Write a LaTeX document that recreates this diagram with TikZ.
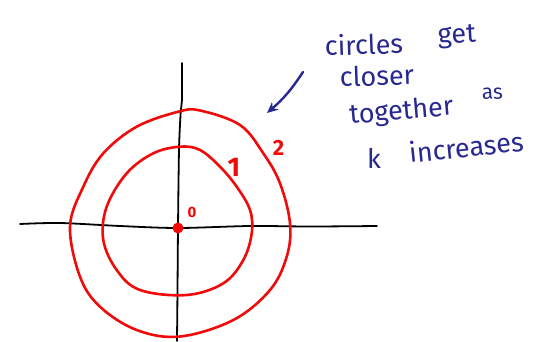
\documentclass[tikz,border=0pt]{standalone}
\usepackage{fontspec}
\setmainfont{Fira Sans}
\usetikzlibrary{arrows.meta}
\definecolor{ink}{RGB}{40,40,145}
\definecolor{pen}{RGB}{240,10,10}
\tikzset{
  axis/.style={black, line width=1.8pt, line cap=round, line join=round},
  level/.style={pen, line width=2.6pt, line join=round},
  note/.style={ink, inner sep=0pt, anchor=base west, font=\fontsize{27}{29}\selectfont},
  smallnote/.style={note, font=\fontsize{21}{23}\selectfont},
  levellabel/.style={pen, inner sep=0pt, font=\bfseries\fontsize{#1}{#1}\selectfont},
  pointer/.style={ink, line width=2.4pt, line cap=round, -{Stealth[length=11pt,width=10pt]}}
}
\begin{document}
\begin{tikzpicture}[x=1pt,y=-1pt]
\useasboundingbox (0,0) rectangle (541,341);
% axes
\coordinate (hL) at (20,224);
\coordinate (hR) at (377,226);
\coordinate (vT) at (182,63);
\coordinate (vB) at (177,341);
\draw[axis] plot[smooth] coordinates {(hL) (60,223) (120,226) (178,228) (250,226) (310,226.5) (hR)};
\draw[axis] plot[smooth] coordinates {(vT) (182,100) (180.7,112) (179,150) (178,228) (177.5,290) (vB)};
% level curves
\draw[level] plot[smooth cycle, tension=0.6] coordinates {
  (178.3,111.7) (200,110.5) (240,125) (263.3,153.3) (280,183.3) (290,223.3)
  (286.7,256.7) (270,290) (233.3,320) (180,336.5) (136.7,330) (100,306.7)
  (80,276.7) (70,226.7) (83.3,186.7) (103.3,153.3) (136.7,126.7)};
\draw[level] plot[smooth cycle, tension=0.6] coordinates {
  (180,146.7) (200,150) (220,166.7) (236.7,186.7) (250,210) (251.7,233.3)
  (243.3,260) (223.3,283.3) (186.7,295) (140,290) (116.7,270) (103.3,240)
  (106.7,206.7) (126.7,173.3) (153.3,153.3)};
% origin
\node[circle, fill=pen, inner sep=0pt, minimum size=11pt] (o) at (178,228) {};
\node[levellabel=15] (l0) at (192,212.5) {0};
\node[levellabel=27] (l1) at (234,167.5) {1};
\node[levellabel=22] (l2) at (278.5,147.5) {2};
% note
\node[note, rotate=2] (w1) at (325,56) {circles};
\node[note, rotate=3] (w2) at (438,44) {get};
\node[note, rotate=2] (w3) at (340,87) {closer};
\node[note, rotate=5] (w4) at (350,124) {together};
\node[smallnote, rotate=3] (w5) at (482,100) {as};
\node[note] (w6) at (367,168) {k};
\node[note, rotate=6] (w7) at (410,163) {increases};
% arrow
\coordinate (aS) at (303,72);
\coordinate (aE) at (267,113);
\draw[pointer] (aS) to[bend left=8] (aE);
\end{tikzpicture}
\end{document}
